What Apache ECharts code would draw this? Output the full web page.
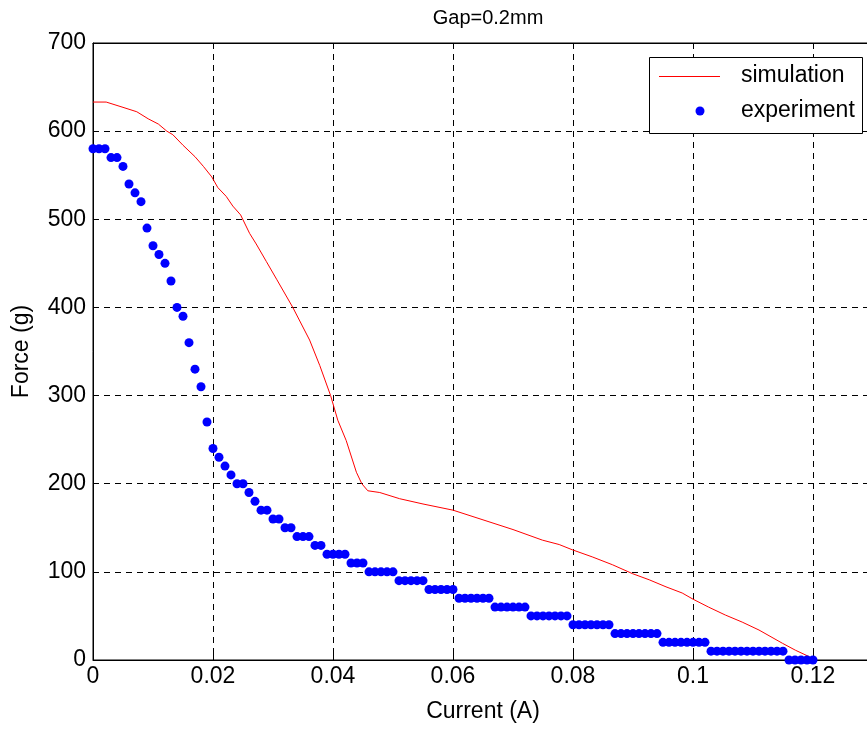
<!DOCTYPE html>
<html>
<head>
<meta charset="utf-8">
<script src="https://cdn.jsdelivr.net/npm/echarts@6/dist/echarts.min.js"></script>
<style>html,body{margin:0;padding:0;background:#fff;overflow:hidden}#c{width:890px;height:729px}</style>
</head>
<body>
<div id="c"></div>
<script>
const titleText = 'Gap=0.2mm';
const xName = 'Current (A)';
const yName = 'Force (g)';
const seriesNames = ['simulation', 'experiment'];

const simCurrent = [0, 0.0022, 0.005, 0.0073, 0.0092, 0.0109, 0.0123, 0.0133, 0.015, 0.017, 0.0184, 0.0198, 0.0208, 0.0222, 0.0233, 0.0246, 0.0261, 0.0272, 0.0289, 0.0306, 0.0333, 0.0361, 0.0378, 0.0396, 0.0408, 0.0422, 0.0439, 0.0448, 0.0458, 0.0478, 0.0511, 0.055, 0.06, 0.065, 0.07, 0.0749, 0.0777, 0.0799, 0.0832, 0.0866, 0.0899, 0.0927, 0.0955, 0.0982, 0.1, 0.1026, 0.1054, 0.1082, 0.111, 0.1149, 0.1171, 0.1193, 0.12];
const simForce = [633, 633, 627, 622, 614, 608, 600, 596, 584, 571, 560, 548, 536, 526, 515, 505, 484, 472, 452, 432, 400, 363, 334, 300, 272, 249, 213, 200, 192, 190, 183, 177, 170, 159, 148, 136, 131, 125, 117, 108, 98, 91, 83, 76, 69, 60, 51, 43, 34, 19, 11, 4, 0];

const expCurrent = [0, 0.001, 0.002, 0.003, 0.004, 0.005, 0.006, 0.007, 0.008, 0.009,
  0.010, 0.011, 0.012, 0.013, 0.014, 0.015, 0.016, 0.017, 0.018, 0.019,
  0.020, 0.021, 0.022, 0.023, 0.024, 0.025, 0.026, 0.027, 0.028, 0.029,
  0.030, 0.031, 0.032, 0.033, 0.034, 0.035, 0.036, 0.037, 0.038, 0.039,
  0.040, 0.041, 0.042, 0.043, 0.044, 0.045, 0.046, 0.047, 0.048, 0.049,
  0.050, 0.051, 0.052, 0.053, 0.054, 0.055, 0.056, 0.057, 0.058, 0.059,
  0.060, 0.061, 0.062, 0.063, 0.064, 0.065, 0.066, 0.067, 0.068, 0.069,
  0.070, 0.071, 0.072, 0.073, 0.074, 0.075, 0.076, 0.077, 0.078, 0.079,
  0.080, 0.081, 0.082, 0.083, 0.084, 0.085, 0.086, 0.087, 0.088, 0.089,
  0.090, 0.091, 0.092, 0.093, 0.094, 0.095, 0.096, 0.097, 0.098, 0.099,
  0.100, 0.101, 0.102, 0.103, 0.104, 0.105, 0.106, 0.107, 0.108, 0.109,
  0.110, 0.111, 0.112, 0.113, 0.114, 0.115, 0.116, 0.117, 0.118, 0.119, 0.120];
const expForce = [580, 580, 580, 570, 570, 560, 540, 530, 520, 490,
  470, 460, 450, 430, 400, 390, 360, 330, 310, 270,
  240, 230, 220, 210, 200, 200, 190, 180, 170, 170,
  160, 160, 150, 150, 140, 140, 140, 130, 130, 120,
  120, 120, 120, 110, 110, 110, 100, 100, 100, 100,
  100, 90, 90, 90, 90, 90, 80, 80, 80, 80,
  80, 70, 70, 70, 70, 70, 70, 60, 60, 60,
  60, 60, 60, 50, 50, 50, 50, 50, 50, 50,
  40, 40, 40, 40, 40, 40, 40, 30, 30, 30,
  30, 30, 30, 30, 30, 20, 20, 20, 20, 20,
  20, 20, 20, 10, 10, 10, 10, 10, 10, 10,
  10, 10, 10, 10, 10, 10, 0, 0, 0, 0, 0];

const xTicks = [0, 0.02, 0.04, 0.06, 0.08, 0.1, 0.12];
const yTicks = [0, 100, 200, 300, 400, 500, 600, 700];

const FONT = 'Liberation Sans';
const FS = 23;
const chart = echarts.init(document.getElementById('c'), null, {renderer: 'canvas'});

const simData = simCurrent.map((x, i) => [x, simForce[i]]);
const expData = expCurrent.map((x, i) => [x, expForce[i]]);

const grid = {left: 93, top: 43, width: 780, height: 617};
const gridLine = {show: true, lineStyle: {color: '#000', type: [6, 5], width: 1}};
const tick = {show: true, inside: true, length: 6, lineStyle: {color: '#000'}};
const axLine = {show: true, onZero: false, lineStyle: {color: '#000', width: 1}};

chart.setOption({
  animation: false,
  backgroundColor: '#fff',
  title: {
    text: titleText, left: 483, top: 3, textAlign: 'center',
    textStyle: {fontFamily: FONT, fontSize: 20, fontWeight: 'normal', color: '#000'}
  },
  grid: Object.assign({show: true, borderColor: '#000', borderWidth: 1, backgroundColor: '#fff'}, grid),
  xAxis: [{
    type: 'value', min: 0, max: 0.13, interval: 0.02,
    name: xName, nameLocation: 'middle', nameGap: 40,
    nameTextStyle: {fontFamily: FONT, fontSize: FS, color: '#000'},
    axisLine: axLine, axisTick: tick,
    axisLabel: {
      fontFamily: FONT, fontSize: FS, color: '#000', margin: 5, showMaxLabel: false,
      formatter: v => (xTicks.some(t => Math.abs(t - v) < 1e-9) ? String(+v.toFixed(4)) : '')
    },
    splitLine: gridLine
  }, {
    type: 'value', position: 'top', min: 0, max: 0.13, interval: 0.02,
    axisLine: axLine, axisTick: tick, axisLabel: {show: false}, splitLine: {show: false}
  }],
  yAxis: [{
    type: 'value', min: 0, max: 700, interval: 100,
    name: yName, nameLocation: 'middle', nameGap: 60, nameRotate: 90,
    nameTextStyle: {fontFamily: FONT, fontSize: FS, color: '#000'},
    axisLine: axLine, axisTick: tick,
    axisLabel: {
      fontFamily: FONT, fontSize: FS, color: '#000', margin: 7,
      formatter: v => (yTicks.includes(v) ? String(v) : '')
    },
    splitLine: gridLine
  }, {
    type: 'value', position: 'right', min: 0, max: 700, interval: 100,
    axisLine: axLine, axisTick: tick, axisLabel: {show: false}, splitLine: {show: false}
  }],
  series: [
    {
      name: seriesNames[0], type: 'line', data: simData, showSymbol: false, symbol: 'none',
      lineStyle: {color: '#ff0000', width: 1}, z: 3
    },
    {
      name: seriesNames[1], type: 'scatter', data: expData, symbol: 'circle', symbolSize: 9,
      itemStyle: {color: '#0000ff', opacity: 1}, z: 4
    }
  ],
  graphic: [
    {type: 'rect', shape: {x: 649.5, y: 57.5, width: 213, height: 76}, style: {fill: '#fff', stroke: '#000', lineWidth: 1}, z: 100},
    {type: 'line', shape: {x1: 659, y1: 76.5, x2: 720, y2: 76.5}, style: {stroke: '#ff0000', lineWidth: 1}, z: 101},
    {type: 'text', x: 741, y: 76, style: {text: seriesNames[0], fontFamily: FONT, fontSize: FS, fill: '#000', verticalAlign: 'middle'}, z: 101},
    {type: 'circle', shape: {cx: 700, cy: 111, r: 4.5}, style: {fill: '#0000ff'}, z: 101},
    {type: 'text', x: 741, y: 111, style: {text: seriesNames[1], fontFamily: FONT, fontSize: FS, fill: '#000', verticalAlign: 'middle'}, z: 101}
  ]
});
</script>
</body>
</html>
